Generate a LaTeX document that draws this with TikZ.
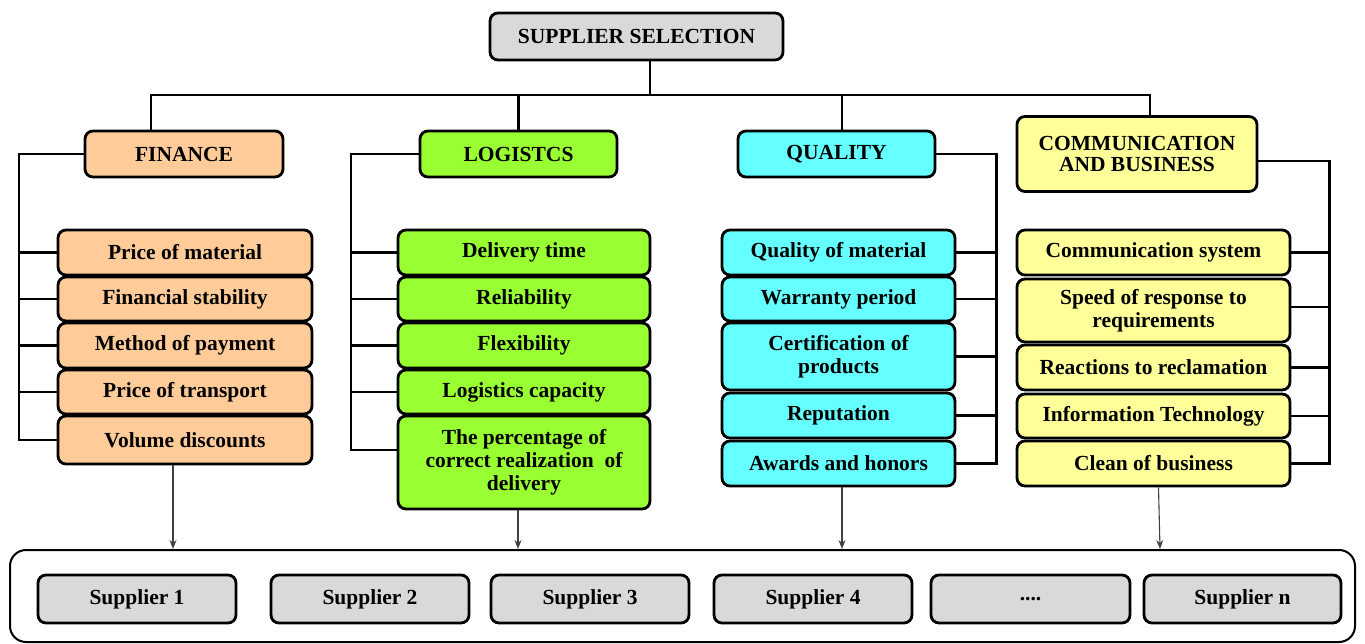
\documentclass[tikz,border=0pt]{standalone}
\usepackage{fontspec}
\setmainfont{Liberation Serif}[BoldFont={Liberation Serif Bold}]
\usetikzlibrary{arrows.meta,calc}
\definecolor{cgray}{HTML}{D9D9D9}
\definecolor{cfin}{HTML}{FFCC99}
\definecolor{clog}{HTML}{99FF33}
\definecolor{cqua}{HTML}{66FFFF}
\definecolor{ccom}{HTML}{FFFF99}
\tikzset{
  bx/.style={draw=black, line width=2.8pt, rounded corners=8pt, align=center, inner sep=0pt,
    font=\bfseries\fontsize{21.5}{23}\selectfont},
  bxs/.style n args={3}{bx, minimum width=#1, minimum height=#2, fill=#3},
  conn/.style={line width=2.2pt, black},
  arr/.style={line width=1.1pt, black!75, -{Stealth[length=9pt,width=7pt]}},
}
\begin{document}
\begin{tikzpicture}[x=1pt,y=-1pt]
\useasboundingbox (0,0) rectangle (1365,644);
% top
\node[bxs={293}{47}{cgray}] (top) at (636.5,36.5) {SUPPLIER SELECTION};
% categories
\node[bxs={198}{46}{cfin}] (fin) at (184,154) {FINANCE};
\node[bxs={197}{46}{clog}] (log) at (518.5,154) {LOGISTCS};
\node[bxs={197}{46}{cqua}] (qua) at (836.5,154) {QUALITY};
\node[bxs={240}{75}{ccom}, font=\bfseries\fontsize{21.5}{21}\selectfont] (com) at (1137,154) {COMMUNICATION\\AND BUSINESS};
% finance items
\node[bxs={254}{45}{cfin}] (f1) at (185,252.5) {Price of material};
\node[bxs={254}{44}{cfin}] (f2) at (185,299) {Financial stability};
\node[bxs={254}{45}{cfin}] (f3) at (185,345.5) {Method of payment};
\node[bxs={254}{44}{cfin}] (f4) at (185,392) {Price of transport};
\node[bxs={254}{48}{cfin}] (f5) at (185,440) {Volume discounts};
% logistics items
\node[bxs={252}{45}{clog}] (l1) at (524,252.5) {Delivery time};
\node[bxs={252}{44}{clog}] (l2) at (524,299) {Reliability};
\node[bxs={252}{45}{clog}] (l3) at (524,345.5) {Flexibility};
\node[bxs={252}{44}{clog}] (l4) at (524,392) {Logistics capacity};
\node[bxs={252}{93}{clog}] (l5) at (524,462.5) {The percentage of\\correct realization\ \ of\\delivery};
% quality items
\node[bxs={233}{45}{cqua}] (q1) at (838.5,252.5) {Quality of material};
\node[bxs={233}{44}{cqua}] (q2) at (838.5,299) {Warranty period};
\node[bxs={233}{67}{cqua}] (q3) at (838.5,356.5) {Certification of\\products};
\node[bxs={233}{45}{cqua}] (q4) at (838.5,415.5) {Reputation};
\node[bxs={233}{45}{cqua}] (q5) at (838.5,463.5) {Awards and honors};
% communication items
\node[bxs={273}{45}{ccom}] (c1) at (1153.5,252.5) {Communication system};
\node[bxs={273}{63}{ccom}] (c2) at (1153.5,310.5) {Speed of response to\\requirements};
\node[bxs={273}{45}{ccom}] (c3) at (1153.5,367.5) {Reactions to reclamation};
\node[bxs={273}{44}{ccom}] (c4) at (1153.5,416) {Information Technology};
\node[bxs={273}{45}{ccom}] (c5) at (1153.5,463.5) {Clean of business};
% container
\node[draw=black, line width=2pt, rounded corners=16pt, minimum width=1345, minimum height=92, inner sep=0pt] (box) at (682.5,596) {};
% suppliers
\node[bxs={198}{48}{cgray}] (s1) at (137,599) {Supplier 1};
\node[bxs={198}{48}{cgray}] (s2) at (370,599) {Supplier 2};
\node[bxs={198}{48}{cgray}] (s3) at (590,599) {Supplier 3};
\node[bxs={198}{48}{cgray}] (s4) at (813,599) {Supplier 4};
\node[bxs={199}{48}{cgray}] (s5) at (1030.5,599) {....};
\node[bxs={197}{48}{cgray}] (sn) at (1242.5,599) {Supplier n};
% top bus
\coordinate (bus) at (0,95);
\draw[conn] ([xshift=13.5]top.south) -- ([xshift=13.5]top.south |- bus);
\draw[conn] ([xshift=-33]fin.north) -- ([xshift=-33]fin.north |- bus) -- ([xshift=13]com.north |- bus) -- ([xshift=13]com.north);
\draw[conn] (log.north) -- (log.north |- bus);
\draw[conn] ([xshift=5.5]qua.north) -- ([xshift=5.5]qua.north |- bus);
% finance bracket
\draw[conn] (fin.west) -- ++(-65,0) coordinate (fb) -- (fb |- f5.west) -- (f5.west);
\foreach \i in {f1,f2,f3,f4} \draw[conn] (\i.west) -- (\i.west -| fb);
% logistics bracket
\coordinate (l5t) at ($(l5.west)+(0,-12.5)$);
\draw[conn] (log.west) -- ++(-68,0) coordinate (lb) -- (lb |- l5t) -- (l5t);
\foreach \i in {l1,l2,l3,l4} \draw[conn] (\i.west) -- (\i.west -| lb);
% quality bracket
\draw[conn] (qua.east) -- ++(60,0) coordinate (qb) -- (qb |- q5.east) -- (q5.east);
\foreach \i in {q1,q2,q3,q4} \draw[conn] (\i.east) -- (\i.east -| qb);
% communication bracket
\coordinate (c2t) at ($(c2.east)+(0,-3.5)$);
\draw[conn] ([yshift=-7]com.east) -- ++(71,0) coordinate (cb) -- (cb |- c5.east) -- (c5.east);
\foreach \i in {c1,c3,c4} \draw[conn] (\i.east) -- (\i.east -| cb);
\draw[conn] (c2t) -- (c2t -| cb);
% arrows to suppliers
\draw[arr] ([xshift=-12]f5.south) -- ([xshift=-12]f5.south |- box.north);
\draw[arr] ([xshift=-6]l5.south) -- ([xshift=-6]l5.south |- box.north);
\draw[arr] ([xshift=3.5]q5.south) -- ([xshift=3.5]q5.south |- box.north);
\draw[arr] ([xshift=5]c5.south) -- ([xshift=6.5]c5.south |- box.north);
\end{tikzpicture}
\end{document}
